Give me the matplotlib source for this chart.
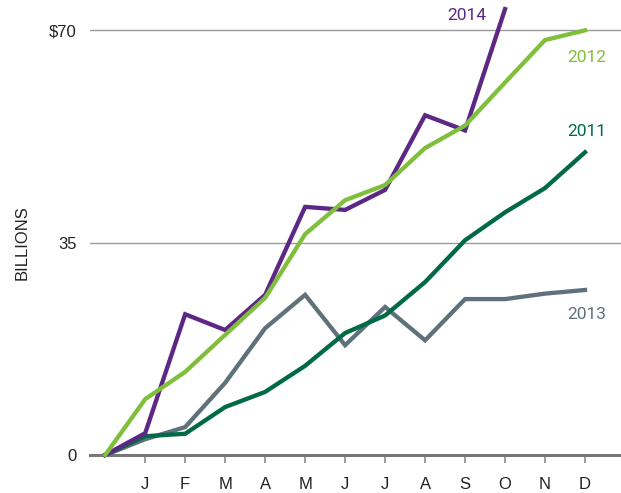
import matplotlib.pyplot as plt

plt.rcParams['font.family'] = ['Liberation Sans', 'DejaVu Sans']

months = ["J", "F", "M", "A", "M", "J", "J", "A", "S", "O", "N", "D"]
x_pts = list(range(13))  # 0 = start, 1..12 = months

v2011 = [0, 3.1, 3.5, 7.9, 10.4, 14.7, 20.1, 23.0, 28.5, 35.4, 40.0, 44.0, 49.9]
v2012 = [0, 9.2, 13.7, 19.8, 25.9, 36.4, 42.0, 44.5, 50.6, 54.3, 61.4, 68.4, 70.0]
v2013 = [0, 2.6, 4.6, 11.9, 20.9, 26.4, 18.1, 24.4, 18.9, 25.7, 25.7, 26.6, 27.2]
v2014 = [0, 3.6, 23.2, 20.6, 26.4, 40.9, 40.4, 43.7, 56.0, 53.5, 73.5]

y_ticks = [0, 35, 70]
y_labels = ["0", "35", "$70"]

c2011 = "#006a45"
c2012 = "#80bf3c"
c2013 = "#5f727c"
c2014 = "#5c2785"

fig = plt.figure(figsize=(6.21, 4.93), dpi=100)
ax = fig.add_axes([90 / 621, 38 / 493, 531 / 621, 455 / 493])

for yv in y_ticks[1:]:
    ax.axhline(yv, color="#9a9a9a", lw=1.0, zorder=1)

lw = 3.1
ax.plot(x_pts, v2013, color=c2013, lw=lw, solid_joinstyle="miter", zorder=3, clip_on=False)
ax.plot(x_pts, v2011, color=c2011, lw=lw, solid_joinstyle="miter", zorder=4, clip_on=False)
ax.plot(x_pts[:len(v2014)], v2014, color=c2014, lw=lw, solid_joinstyle="miter", zorder=5, clip_on=False)
ax.plot(x_pts, v2012, color=c2012, lw=lw, solid_joinstyle="miter", zorder=6, clip_on=False)

# year labels
yr_font = ['Roboto', 'DejaVu Sans']
fs_yr = 12.5
ax.text(9.05, 72.4, "2014", color=c2014, fontsize=fs_yr, family=yr_font, ha="center", va="center")
ax.text(12.05, 65.6, "2012", color=c2012, fontsize=fs_yr, family=yr_font, ha="center", va="center")
ax.text(12.05, 53.3, "2011", color=c2011, fontsize=fs_yr, family=yr_font, ha="center", va="center")
ax.text(12.05, 23.2, "2013", color=c2013, fontsize=fs_yr, family=yr_font, ha="center", va="center")

fs = 12
ax.set_xlim(-0.38, 12.9)
ax.set_ylim(0, 75)
ax.set_xticks(range(1, 13))
ax.set_xticklabels(months, fontsize=fs, color="#222222")
ax.set_yticks(y_ticks)
ax.set_yticklabels(y_labels, fontsize=fs, color="#222222")
ax.tick_params(axis="x", length=6, width=1.2, color="#8a8a8a", pad=10)
ax.tick_params(axis="y", length=0, pad=9.4)
fig.text(22 / 621, 1 - 243 / 493, "BILLIONS", fontsize=fs, color="#222222",
         rotation=90, ha="center", va="center")

for side in ["top", "right", "left"]:
    ax.spines[side].set_visible(False)
ax.spines["bottom"].set_color("#777777")
ax.spines["bottom"].set_linewidth(2.2)

fig.savefig("out.png", dpi=100)
